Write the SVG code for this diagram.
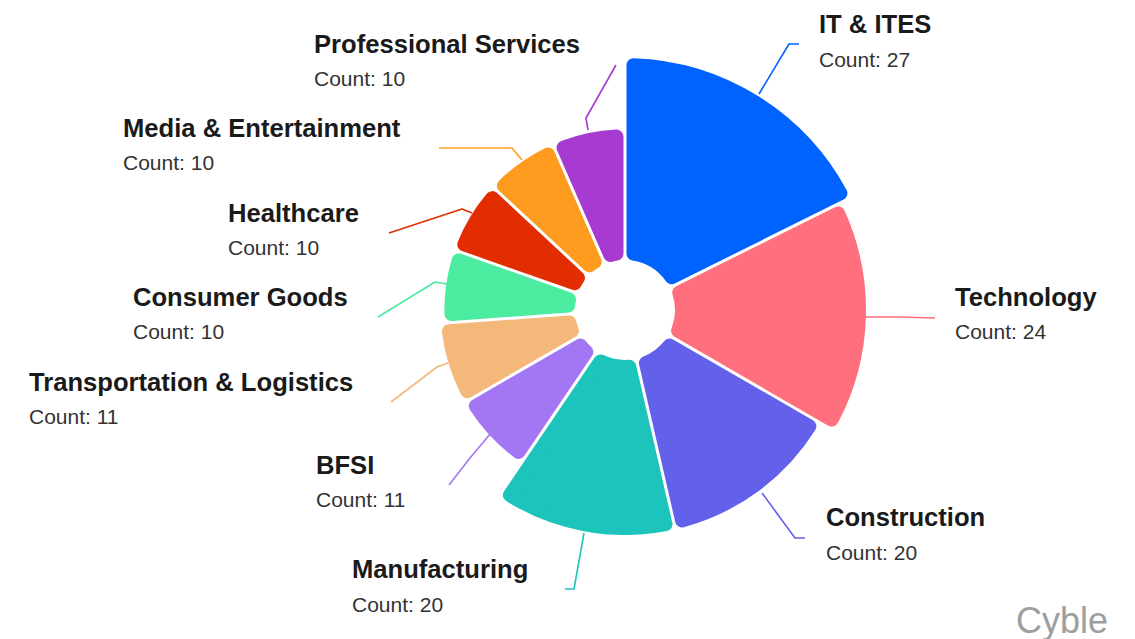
<svg xmlns="http://www.w3.org/2000/svg" width="1135" height="639" viewBox="0 0 1135 639">
<style>
.s{stroke-width:14;stroke-linejoin:round}
.t{font-family:"Liberation Sans",Arial,sans-serif;font-weight:bold;font-size:25.6px;fill:#1a1a1a}
.c{font-family:"Liberation Sans",Arial,sans-serif;font-size:21px;fill:#333}
.l{fill:none;stroke-width:1.6;stroke-linejoin:round}
</style>
<rect width="1135" height="639" fill="#fff"/>
<g id="connectors">
<polyline class="l" stroke="#0062ff" points="759,94 789,44 799,44"/>
<polyline class="l" stroke="#ff6f7d" points="866,317 900,317 935,318"/>
<polyline class="l" stroke="#6361ea" points="762,493 795,538 805,538"/>
<polyline class="l" stroke="#1cc4bb" points="584,533 574,589 565,589"/>
<polyline class="l" stroke="#a377f4" points="491,433 470,458 449,485"/>
<polyline class="l" stroke="#f4b97a" points="448,363 437,367 391,402"/>
<polyline class="l" stroke="#4bec9f" points="447,284 435,282 378,317"/>
<polyline class="l" stroke="#e12d00" points="472,213 462,209 389,233"/>
<polyline class="l" stroke="#ff9c1f" points="522,160 512,148 439,148"/>
<polyline class="l" stroke="#a73ad0" points="588,130 586,118 616,65"/>
</g>
<g id="it-ites">
<path class="s" fill="#0062ff" stroke="#0062ff" d="M633.51,65.15 A245,245 0 0 1 840.41,193.26 L671.67,277.28 A57,57 0 0 0 633.50,253.64 Z"/>
<text class="t" x="819" y="33">IT &amp; ITES</text>
<text class="c" x="819" y="67">Count: 27</text>
</g>
<g id="technology">
<path class="s" fill="#ff6f7d" stroke="#ff6f7d" d="M838.12,213.40 A234,234 0 0 1 831.75,419.59 L678.06,330.81 A57,57 0 0 0 679.24,292.49 Z"/>
<text class="t" x="955" y="306">Technology</text>
<text class="c" x="955" y="339">Count: 24</text>
</g>
<g id="construction">
<path class="s" fill="#6361ea" stroke="#6361ea" d="M809.39,426.29 A218,218 0 0 1 682.05,520.40 L645.91,363.03 A57,57 0 0 0 669.55,345.56 Z"/>
<text class="t" x="826" y="526">Construction</text>
<text class="c" x="826" y="560">Count: 20</text>
</g>
<g id="manufacturing">
<path class="s" fill="#1cc4bb" stroke="#1cc4bb" d="M665.51,524.20 A218,218 0 0 1 509.87,495.12 L600.42,361.43 A57,57 0 0 0 629.33,366.84 Z"/>
<text class="t" x="352" y="578">Manufacturing</text>
<text class="c" x="352" y="612">Count: 20</text>
</g>
<g id="bfsi">
<path class="s" fill="#a377f4" stroke="#a377f4" d="M518.57,451.92 A177.4,177.4 0 0 1 475.78,405.94 L580.45,345.56 A57,57 0 0 0 586.34,351.89 Z"/>
<text class="t" x="316" y="474">BFSI</text>
<text class="c" x="316" y="507">Count: 11</text>
</g>
<g id="transportation-logistics">
<path class="s" fill="#f4b97a" stroke="#f4b97a" d="M467.31,391.24 A177.4,177.4 0 0 1 448.87,331.21 L569.39,322.53 A57,57 0 0 0 571.94,330.81 Z"/>
<text class="t" x="29" y="391">Transportation &amp; Logistics</text>
<text class="c" x="29" y="424">Count: 11</text>
</g>
<g id="consumer-goods">
<path class="s" fill="#4bec9f" stroke="#4bec9f" d="M451.45,313.98 A173.6,173.6 0 0 1 458.64,260.40 L569.02,299.29 A57,57 0 0 0 568.17,305.57 Z"/>
<text class="t" x="133" y="306">Consumer Goods</text>
<text class="c" x="133" y="339">Count: 10</text>
</g>
<g id="healthcare">
<path class="s" fill="#e12d00" stroke="#e12d00" d="M464.29,244.36 A173.6,173.6 0 0 1 492.27,198.11 L577.94,277.84 A57,57 0 0 0 574.67,283.24 Z"/>
<text class="t" x="228" y="222">Healthcare</text>
<text class="c" x="228" y="255">Count: 10</text>
</g>
<g id="media-entertainment">
<path class="s" fill="#ff9c1f" stroke="#ff9c1f" d="M503.85,185.66 A173.6,173.6 0 0 1 547.98,154.42 L594.70,261.72 A57,57 0 0 0 589.53,265.38 Z"/>
<text class="t" x="123" y="137">Media &amp; Entertainment</text>
<text class="c" x="123" y="170">Count: 10</text>
</g>
<g id="professional-services">
<path class="s" fill="#a73ad0" stroke="#a73ad0" d="M563.57,147.63 A173.6,173.6 0 0 1 616.50,136.61 L616.50,253.64 A57,57 0 0 0 610.30,254.93 Z"/>
<text class="t" x="314" y="53">Professional Services</text>
<text class="c" x="314" y="86">Count: 10</text>
</g>
<text x="1016" y="633" font-family="Liberation Sans, Arial, sans-serif" font-size="36" fill="#9e9e9e">Cyble</text>
</svg>
